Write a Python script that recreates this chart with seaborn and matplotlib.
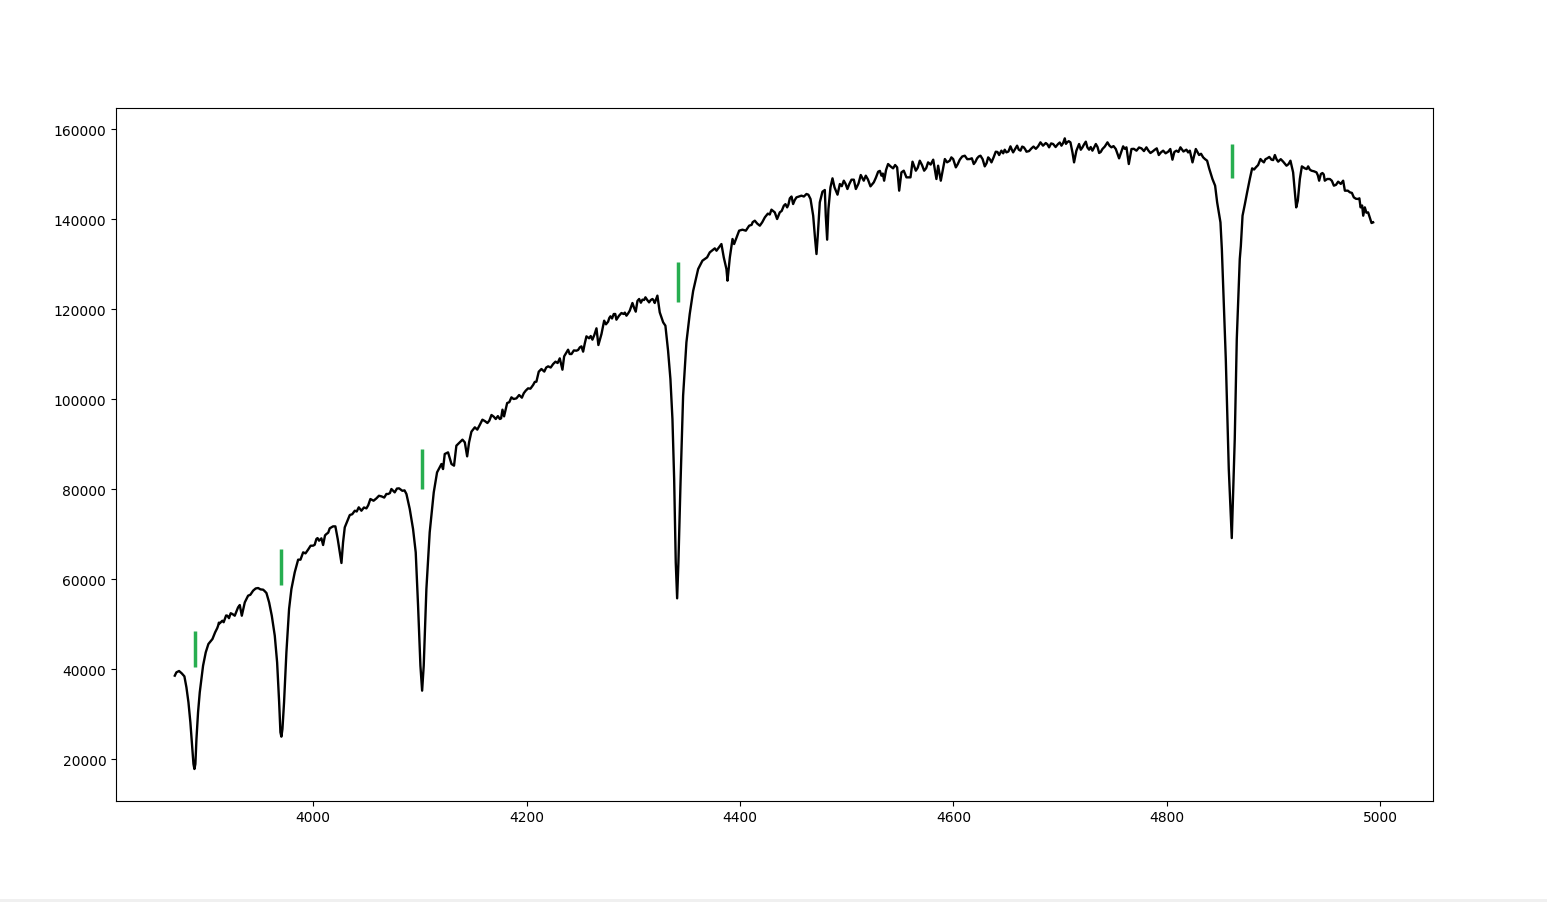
import matplotlib
matplotlib.use('Agg')
import matplotlib.pyplot as plt
from matplotlib.patches import Rectangle
import seaborn as sns
import pandas as pd

# Spectrum (wavelength, flux)
wave_blue = [3870.2, 3871.7, 3874.2, 3876.7, 3879.2, 3881.1, 3883, 3884.8, 3886.4, 3887.7, 3888.6, 3889.5, 3890.5, 3892,
             3893.6, 3895.2, 3896.7, 3899.2, 3901.7, 3905.5, 3908, 3910.8, 3912.3, 3914.8, 3917.3, 3919.5, 3924.2, 3926.4,
             3929.5, 3931.1, 3933, 3935.8, 3938.9, 3943.6, 3948.3, 3953, 3956.1, 3958.6, 3961.1, 3963.9, 3966.1, 3968,
             3969.2, 3970.1, 3971.1, 3972.6, 3974.8, 3977.3, 3979.5, 3982.6, 3985.8, 3988, 3990.5, 3995.1, 3999.8, 4002.9,
             4005.4, 4007.6, 4009.2, 4012.3, 4015.4, 4018.5, 4020.7, 4022.9, 4024.8, 4026.4, 4027.9, 4029.5, 4034.2, 4038.9,
             4042.6, 4045.1, 4049.8, 4053.5, 4059.2, 4063.9, 4070.1, 4073.2, 4076.3, 4080.4, 4087.3, 4090.4, 4093.5, 4096,
             4098.2, 4100.4, 4102, 4103.5, 4106, 4109.1, 4112.9, 4116, 4120.1, 4121.6, 4123.2, 4126.3, 4129.5, 4131.9,
             4134.1, 4137.3]
flux_blue = [38520, 39260, 39560, 39040, 38370, 35930, 32600, 28150, 22970, 18890, 17780, 18890, 24450, 30370,
             34820, 37780, 40740, 43700, 45560, 46670, 48150, 49630, 50150, 50740, 51260, 51850, 52220, 51850,
             53700, 54220, 51850, 54810, 56300, 57410, 58000, 57630, 56890, 54810, 51850, 47410, 41480, 32600,
             25930, 24970, 26670, 32600, 43700, 53330, 57780, 61480, 64300, 64300, 65930, 66520, 67410, 68890,
             68520, 69040, 67560, 70000, 71260, 71700, 71700, 68890, 65930, 63560, 68150, 71480, 74220, 75180,
             75930, 75180, 75700, 77780, 77930, 78370, 78890, 80000, 79260, 80150, 78890, 75560, 71110, 65930,
             54070, 40740, 35190, 40740, 57780, 70370, 79260, 83700, 85560, 84440, 87780, 88150, 85560, 85190,
             89630, 90370]

wave_mid = [4139.8, 4142, 4144.2, 4146, 4148.2, 4151.4, 4156, 4158.5, 4163.2, 4167, 4171, 4174.8, 4177.3, 4178.8,
            4181.7, 4185.7, 4190.4, 4192.9, 4199.1, 4201.3, 4206, 4209.1, 4211.3, 4213.8, 4220.1, 4224.8, 4231, 4233.5,
            4235.1, 4238.8, 4242, 4246.6, 4249.8, 4252.9, 4256, 4261.6, 4265.4, 4267.2, 4270.1, 4272.6, 4276.3, 4278.5,
            4281.6, 4284.1, 4288.8, 4293.5, 4296.6, 4299.1, 4302.2, 4305.4, 4308.5, 4311.3, 4314.7, 4317.9, 4320, 4322.5,
            4324.7, 4327.9, 4330, 4332.5, 4334.7, 4336.6, 4338.2, 4339.7, 4341, 4342.2, 4344.1, 4346.6, 4349.7, 4352.8,
            4356, 4360.7, 4364.7, 4369.1, 4371.6, 4376.3, 4377.9, 4382.5, 4384.7, 4387.2, 4388.2, 4390.4, 4392.9, 4394.4,
            4399.1, 4402.2, 4405.4, 4408.5, 4413.8, 4418.5, 4423.2, 4429.4, 4432.5, 4434.7, 4437.2, 4441, 4444.1, 4446.6,
            4449.7, 4452.8, 4457.5, 4462.2, 4466, 4468.5, 4470.3, 4471.6, 4472.8, 4474.7, 4477.2, 4479.4, 4480.3, 4481.6,
            4482.8, 4484.7, 4486.6, 4488.5, 4491.3, 4493.5, 4497.2, 4500.6, 4504.4, 4506.6, 4508.5, 4513.1, 4515.9, 4517.8,
            4522.2, 4525.3, 4529.4, 4532.5, 4535, 4538.7, 4543.4, 4547.2, 4549.1, 4551.2, 4553.4, 4555.9, 4559.7, 4561.6,
            4564.7, 4568.4, 4572.5, 4576.2, 4581, 4584, 4585.6, 4588.1, 4591.9, 4596.5, 4599.7, 4602.2]
flux_mid = [90970, 90370, 87260, 90370, 92740, 93710, 94230, 95410, 94670, 96450, 95560, 95560, 97630, 96150,
            99110, 100370, 100150, 100890, 101860, 102370, 103110, 103850, 106070, 106670, 107260, 107780, 109040, 106520,
            109480, 110960, 110000, 110740, 111480, 110520, 113930, 113190, 115710, 112000, 114450, 117410, 117190, 118380,
            118890, 117630, 119110, 118520, 119630, 121340, 119410, 122230, 122080, 122600, 121480, 122230, 121340, 122970,
            119260, 117040, 116300, 110740, 104450, 95560, 82230, 63700, 55710, 63700, 80750, 100740, 112600, 118890,
            124000, 128890, 130740, 131480, 132590, 133480, 132960, 134440, 131480, 128890, 126300, 131480, 135560, 134440,
            137410, 137630, 137410, 138520, 139630, 138520, 140370, 142080, 141480, 140000, 141480, 142960, 142590, 144590,
            143330, 144810, 145190, 145560, 144450, 140740, 135560, 132220, 136300, 143700, 146070, 146450, 140740, 135410,
            142220, 147040, 149040, 147040, 145410, 147780, 148520, 146670, 148740, 148740, 146670, 149780, 148520, 149630,
            147260, 148150, 150520, 149630, 148520, 152220, 151260, 151480, 146300, 150370, 150740, 149260, 149260, 152740,
            150740, 152960, 150740, 152590, 153190, 148890, 151850, 148520, 153330, 152960, 153330, 151480]

wave_top = [4605.9, 4610.6, 4615.3, 4619, 4622.1, 4625.3, 4629.3, 4632.5, 4635.6, 4639.6, 4642.8, 4644.9, 4649.6, 4653.4,
            4655.9, 4659.6, 4662.8, 4665.9, 4668.4, 4673.1, 4679.3, 4681.5, 4686.5, 4689.6, 4693.4, 4698, 4701.2, 4704.3,
            4706.5, 4709.6, 4711.5, 4713, 4715.2, 4717.7, 4720.9, 4724, 4727.1, 4730.2, 4733.4, 4736.5, 4739.6, 4744.3,
            4748, 4752.1, 4755.2, 4759, 4762.1, 4764.3, 4766.8, 4771.5, 4776.2, 4780.8, 4784.6, 4788.7, 4792.4, 4796.5,
            4801.2, 4803.2, 4805.2, 4809, 4812.7, 4818.3, 4821.5, 4824, 4827.1, 4830.2]
flux_top = [153190, 154070, 153330, 152220, 153480, 154070, 151700, 153700, 152590, 154960, 154220, 155190, 154810, 156150,
            154810, 156300, 155190, 155930, 154960, 155700, 156150, 157040, 156890, 155930, 156670, 156670, 156300, 157930,
            157040, 157040, 154810, 152590, 155190, 156670, 155930, 157190, 155410, 155190, 156670, 154670, 155560, 157040,
            155930, 155560, 153480, 156150, 155930, 152220, 155560, 155190, 155700, 155930, 154670, 155410, 154220, 155190,
            154960, 155560, 153190, 155190, 155930, 155410, 155190, 152590, 155560, 154220]

wave_red = [4834, 4837.7, 4839.6, 4842.7, 4845.2, 4847.1, 4850.2, 4851.5, 4855.2, 4858, 4860.8, 4863.6, 4865.5, 4868.3,
            4869.3, 4870.9, 4873.1, 4875.2, 4877.7, 4879.9, 4883.4, 4885.5, 4887.7, 4890.9, 4894, 4898, 4901.2, 4904.3,
            4909, 4912.1, 4915.8, 4918.3, 4919.9, 4921.2, 4922.7, 4924.6, 4926.5, 4929.3, 4932.4, 4935.5, 4940.2, 4942.7,
            4945.8, 4948, 4952.7, 4956.5, 4960.5, 4965.2, 4966.8, 4971.5, 4975.2, 4979.3, 4981.5, 4983, 4984, 4985.5,
            4988.6, 4991.8, 4993.3]
flux_red = [153700, 152960, 151260, 148890, 147410, 143700, 139260, 133330, 108900, 84440, 69100, 91100, 113330, 131100,
            134000, 140740, 143330, 145930, 148890, 151260, 151480, 152000, 153330, 152590, 153480, 153190, 154220, 152740,
            152740, 151850, 152960, 150370, 145930, 142590, 144070, 148890, 151700, 151260, 151700, 150740, 150370, 148520,
            150220, 148520, 148890, 147410, 148300, 148520, 146300, 145930, 144810, 144450, 142590, 143000, 140740, 142590,
            141480, 139110, 139260]

# small wiggles along the continuum, second pass over the crops
wave_fine = [3910, 3911.5, 3916, 3918.3, 3921, 3922.6, 3941, 3946, 3950.5, 3954.5, 3992.7, 3997.5, 4001.3, 4004, 4011, 4014,
             4036.5, 4040.7, 4047.5, 4051.5, 4056.5, 4061.5, 4066.5, 4068.5, 4071.8, 4078.4, 4083.5, 4085.5,
             4153.7, 4160.8, 4165, 4169, 4173, 4176, 4183.7, 4187.8, 4195.5, 4197.3, 4203.5, 4207.6, 4216.5, 4218.3,
             4222.5, 4227, 4229, 4240.3, 4244.2, 4248.2, 4251.3, 4254.4, 4258.5, 4260, 4263.5, 4274.3, 4277.4, 4280,
             4283, 4286.5, 4290.8, 4292, 4295, 4298, 4300.6, 4303.8, 4307, 4310, 4313, 4316.3, 4319,
             4410.8, 4411.8, 4416, 4420.8, 4426, 4427.8, 4439, 4442.5, 4445.3, 4448.2, 4451.2, 4455, 4459.8, 4464,
             4495.3, 4498.9, 4502.4, 4511, 4519.8, 4527.3, 4531, 4533.8, 4536.8, 4541, 4545.3, 4566.5, 4570.5, 4574.4,
             4578.6, 4594, 4598, 4604, 4608.2, 4612.9, 4617.2, 4620.5, 4623.7, 4627.3, 4631, 4634, 4637.6, 4641.2,
             4646.6, 4648, 4651.5, 4654.7, 4657.8, 4661.2, 4664.4, 4667.2, 4670.8, 4675, 4677.2, 4683.9, 4688, 4691.5,
             4695.7, 4699.6, 4702.8, 4705.4, 4708, 4719.3, 4722.4, 4725.5, 4728.6, 4731.8, 4735, 4738, 4741.8, 4746.2,
             4750, 4760.5, 4769, 4773.9, 4778.5, 4782.7, 4786.6, 4790.5, 4794.4, 4798.8, 4807, 4810.8, 4815.5, 4819.9,
             4832, 4835.8, 4881.7, 4889.3, 4892.4, 4896, 4899.6, 4902.7, 4906.7, 4910.5, 4914, 4931, 4933.9, 4937.9,
             4941.5, 4944.3, 4947, 4950.3, 4954.6, 4958.5, 4963, 4969.6, 4973.4, 4977.2, 4980.4, 4987, 4990.3]
flux_fine = [49100, 50300, 50400, 51900, 51300, 52400, 56500, 57900, 57700, 57300, 65700, 67400, 67600, 69100, 69700, 70300,
             74400, 75000, 75900, 76400, 77400, 78500, 78100, 78900, 79100, 80100, 79600, 79700,
             93200, 95100, 95200, 96100, 96200, 95700, 99300, 100000, 100300, 101300, 102300, 103800, 106100, 107000,
             107000, 108300, 108000, 110000, 110800, 110900, 111700, 112300, 113500, 114000, 114300, 116600, 118000, 117900,
             118900, 118500, 118900, 119200, 119000, 120600, 120300, 121800, 121400, 122000, 122000, 122000, 121900,
             138700, 139300, 139000, 139300, 141200, 141000, 141800, 143300, 143200, 145000, 144200, 145000, 145000, 145400,
             147300, 147800, 147800, 147900, 148800, 149200, 150700, 150100, 150900, 151700, 152000, 151400, 152000, 151300,
             152100, 152600, 153700, 152200, 153900, 153300, 153500, 152700, 153900, 153300, 152400, 153300, 153700, 154900,
             154600, 155400, 155000, 155400, 155600, 155400, 156100, 155500, 155100, 156100, 155600, 156300, 156600, 156800,
             156000, 157000, 156900, 156700, 157300, 155400, 156600, 155900, 156000, 155900, 156000, 154900, 156100, 156300,
             156200, 155600, 155600, 155900, 155100, 155200, 155000, 155700, 154800, 154600, 154900, 154900, 155000, 154800,
             154500, 153300, 151000, 152900, 153300, 153800, 153100, 153300, 153300, 152300, 152200, 151100, 151000, 150600,
             149700, 150000, 149900, 148900, 148500, 147600, 147800, 146300, 145800, 144500, 144600, 141400, 140200]

# Balmer line markers
line_wave = [3889, 3970, 4102, 4342, 4861]
line_low = [40450, 58670, 80000, 121560, 149110]
line_high = [48450, 66670, 88890, 130440, 156670]

spec = pd.DataFrame({'wavelength': wave_blue + wave_mid + wave_top + wave_red + wave_fine,
                     'flux': flux_blue + flux_mid + flux_top + flux_red + flux_fine})
spec = spec.sort_values('wavelength')

fig, ax = plt.subplots(figsize=(15.47, 9.03), dpi=100)
fig.subplots_adjust(left=116 / 1547, right=1433 / 1547, top=1 - 108.6 / 903, bottom=1 - 801.6 / 903)

sns.lineplot(data=spec, x='wavelength', y='flux', color='black', linewidth=1.7, estimator=None, sort=False, ax=ax)
ax.vlines(line_wave, line_low, line_high, color='#27ae50', linewidth=2.5)

ax.set_xlim(3815.1, 5049.4)
ax.set_ylim(10760, 164760)
ax.set_xticks([4000, 4200, 4400, 4600, 4800, 5000])
ax.set_yticks(range(20000, 160001, 20000))
ax.set_xlabel('')
ax.set_ylabel('')

# grey strip along the bottom edge of the screenshot
fig.add_artist(Rectangle((0, 0), 1, 3.5 / 903, transform=fig.transFigure, color='#f0f0f0', lw=0))

fig.savefig('out.png', dpi=100)
